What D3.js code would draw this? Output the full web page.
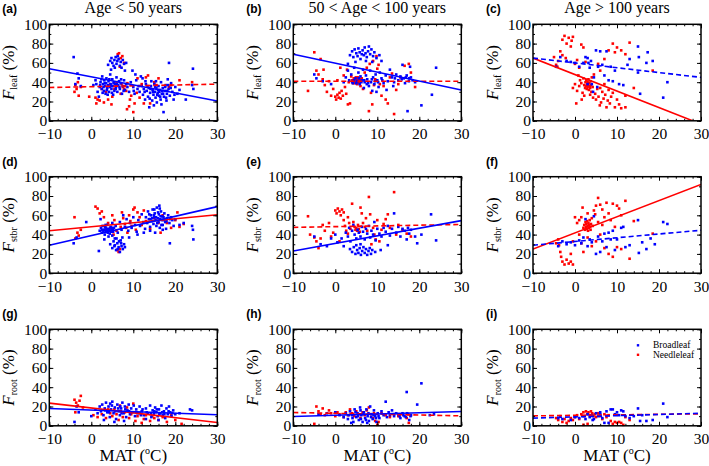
<!DOCTYPE html>
<html><head><meta charset="utf-8">
<script src="https://cdn.jsdelivr.net/npm/d3@7/dist/d3.min.js"></script>
<style>body{margin:0;background:#fff}svg{display:block}</style>
</head><body>
<svg id="chart" width="709" height="466"></svg>
<script>
// ---------- labels ----------
const columnTitles = ["Age < 50 years", "50 < Age < 100 years", "Age > 100 years"];
const rowSubscripts = ["leaf", "stbr", "root"];
const panelLetters = ["(a)","(b)","(c)","(d)","(e)","(f)","(g)","(h)","(i)"];
const xTicks = [-10, 0, 10, 20, 30];
const yTicks = [0, 20, 40, 60, 80, 100];
const seriesNames = ["Broadleaf", "Needleleaf"];

// ---------- points [MAT, fraction %] ----------
const leafYoungBroad = [[-4.2,66],[-3.3,49],[-3,44],[-2.5,36],[-3.8,38],[0.5,37],[1,42],[1.2,38],[1.5,30],[1.8,25],[2,35],[2.2,40],[2.5,33],[2.6,46],[2.8,38],[3,31],[3.1,42],[3.3,36],[3.4,28],[3.5,39],[3.6,44],[3.8,34],[4,37],[4.1,41],[4.2,30],[4.4,35],[4.5,48],[4.6,38],[4.8,33],[5,43],[5.1,36],[5.2,27],[5.4,40],[5.5,31],[5.7,38],[5.9,35],[6,45],[6.2,30],[6.4,37],[6.6,41],[6.8,33],[7,39],[7.3,28],[7.5,36],[7.8,42],[8,32],[8.3,38],[8.6,35],[9,30],[9.4,40],[9.8,52],[10,35],[10.3,28],[10.7,42],[4,58],[4.5,62],[4.8,65],[5,60],[5.3,57],[5.5,63],[5.8,66],[6,59],[6.2,62],[6.5,64],[6.8,57],[7,61],[7.2,55],[7.5,63],[7.8,59],[8,52],[8.3,60],[4.7,53],[6.3,67],[5.6,55],[11,33],[11.5,30],[12,36],[12.3,27],[12.5,33],[12.8,22],[13,38],[13.2,31],[13.5,25],[13.7,34],[14,29],[14.2,36],[14.5,21],[14.6,32],[14.8,27],[15,38],[15.1,30],[15.3,24],[15.5,34],[15.6,19],[15.8,29],[16,36],[16.1,26],[16.3,32],[16.5,22],[16.6,40],[16.8,28],[17,34],[17.2,9],[17.3,25],[17.5,31],[17.7,37],[17.9,21],[18,28],[18.2,43],[18.4,33],[18.5,60],[18.7,26],[19,39],[19.3,30],[19.6,22],[20,35],[20.5,28],[21,32],[22.5,22],[24.2,54],[24,37],[24.3,33],[13.8,14],[14.3,41],[12.2,44],[11.8,46],[10.5,48],[2.1,37],[2.4,43],[2.9,35],[3.2,39],[3.7,32],[4.3,43],[4.7,36],[5.3,39],[5.8,33],[6.1,38],[6.7,35],[7.1,43],[7.7,31],[3.9,27],[4.9,29],[2.7,29],[12.7,30],[13.4,36],[13.9,23],[14.1,33],[14.7,30],[15.2,35],[15.7,27],[15.9,32],[16.2,30],[16.4,25],[16.9,31],[17.1,28],[17.6,35],[17.8,24],[18.1,31],[18.3,37],[18.9,34],[15.4,41],[16.7,17],[14.9,16],[19.8,27],[11.3,36],[12.9,41],[10.1,31]];
const leafYoungNeedle = [[-4,30],[-3.8,37],[-3.5,33],[-3,26],[-3.2,40],[-2.5,35],[-0.5,25],[1,24],[1.2,18],[1.5,22],[2,21],[2.5,33],[3,19],[3.5,30],[4,22],[4.5,38],[5,25],[5.5,33],[5.8,36],[6,40],[6.3,69],[6.6,70],[7,65],[7.4,67],[7.8,60],[6.8,56],[7.2,38],[7.5,35],[7.8,33],[8,36],[8.3,31],[8.6,39],[9,15],[9.2,22],[9.5,26],[10,9],[10.3,18],[10.8,29],[11,44],[11.5,24],[12,38],[12.5,18],[13,45],[13.5,47],[14,18],[15,40],[15.5,37],[16,44],[18.5,35],[19,37],[21,42],[24,40],[8.5,12],[7,28],[4.8,17]];
const leafMidBroad = [[3.5,68],[4,72],[4.3,66],[4.6,74],[5,70],[5.3,67],[5.5,75],[5.8,71],[6,64],[6.3,69],[6.5,73],[6.8,68],[7,76],[7.2,70],[7.5,66],[7.8,72],[8,77],[8.3,69],[8.6,74],[9,67],[9.3,71],[9.8,65],[10.5,68],[11,62],[3,59],[4.8,61],[7.3,62],[8.8,61],[-5,48],[-4.5,44],[-3,41],[-1,38],[2,40],[2.5,45],[3,52],[3.3,42],[3.8,48],[4.2,39],[4.5,55],[4.8,44],[5.2,41],[5.5,50],[5.8,38],[6,46],[6.3,42],[6.6,53],[7,40],[7.3,47],[7.6,43],[8,36],[8.3,52],[8.5,40],[8.8,31],[9,45],[9.3,38],[9.6,48],[10,42],[10.3,35],[10.6,50],[11,44],[11.5,39],[12,47],[12.5,41],[13,53],[13.5,45],[14,40],[14.5,48],[15,42],[15.5,46],[16,58],[16.3,44],[16.6,39],[17,47],[17.2,10],[17.5,41],[17.8,56],[18,45],[18.4,42],[19,40],[20.5,16],[23,27],[24,55],[12.2,32],[13.8,36],[6.8,34],[9.8,30],[4.4,42],[5,39],[5.6,44],[6.2,40],[6.9,42],[7.8,39],[8.7,43],[9.5,41],[4,40],[7.5,38],[10.2,40],[11.2,42],[14.2,44],[15.8,43],[16.8,45],[17.6,44]];
const leafMidNeedle = [[-6.5,31],[-5,71],[-4.5,52],[-4,48],[-3.5,64],[-3,43],[-2.5,37],[-2,30],[-1.5,41],[-1,26],[-0.5,33],[0,25],[0.2,22],[0.5,27],[0.8,24],[1,29],[1.3,23],[1.5,31],[1.8,26],[2,47],[2.3,35],[2.6,28],[3,17],[3.2,40],[3.5,18],[3.8,46],[4,42],[4.2,39],[4.4,44],[4.6,41],[4.8,43],[5,40],[5.2,38],[5.4,45],[5.6,42],[5.8,39],[6,36],[6.3,44],[6.6,33],[7,50],[7.5,55],[8,10],[8.2,59],[8.5,29],[8.8,17],[9,62],[9.2,37],[9.5,43],[9.8,67],[10,54],[10.3,58],[10.6,38],[11,26],[11.5,36],[12,22],[12.5,18],[13,45],[13.5,49],[14,7],[14.5,32],[15,38],[15.5,45],[16.5,57],[17.5,59],[18,50],[19,35],[1.2,55],[0.5,42],[-2.8,53],[2.8,53],[4.3,41],[4.7,39],[5.1,42],[5.5,40],[5.9,43],[5.3,44],[4.9,45],[6.1,41]];
const leafOldBroad = [[-4.5,56],[-3.5,66],[-2,62],[-1,61],[0,60],[1,56],[2,60],[2.5,66],[3,65],[3.2,60],[3.5,55],[3.8,62],[4,38],[4.3,30],[5,73],[5.5,56],[6,72],[6.5,58],[7,47],[7.5,72],[8,42],[8.5,56],[9,41],[9.5,52],[10.5,38],[11.5,37],[12.5,58],[13,64],[15,77],[15.2,66],[15.5,28],[15,50],[17,60],[17.3,71],[18.5,62],[21,24],[22,40],[3,38],[4.5,45],[5.3,35]];
const leafOldNeedle = [[-5,66],[-4.5,58],[-4,62],[-3.5,72],[-3,84],[-2.5,88],[-2,80],[-1.5,86],[-1,77],[-0.5,87],[-0.8,83],[-3,68],[-4.2,56],[-2.2,65],[0,59],[0.5,63],[1,55],[1.5,79],[2,76],[2.5,61],[0.8,47],[1.2,42],[-0.5,34],[0,38],[0.5,31],[1,36],[1.5,39],[1.8,29],[2,44],[2.2,37],[2.4,34],[2.5,40],[2.6,36],[2.7,42],[2.8,33],[2.9,38],[3,35],[3,40],[3.1,37],[3.2,43],[3.3,32],[3.4,39],[3.5,36],[3.6,34],[3.7,41],[3.8,37],[3.9,30],[4,45],[4.2,35],[4.5,48],[4.8,28],[5,22],[5.3,33],[5.6,25],[5.9,16],[6.2,19],[6.5,30],[6.8,23],[7,38],[7.2,27],[7.5,14],[7.8,21],[8,32],[8.3,18],[8.6,25],[9,29],[9.5,14],[10,22],[10.5,17],[11,13],[12,14],[12,26],[7,64],[8,73],[9,80],[9.5,71],[10,76],[11,73],[12,69],[13,81],[6,52],[5.5,59],[14,34],[18.5,52],[2.2,26],[1.6,22],[4.3,24],[3.6,27],[6,34],[0.3,18]];

const stbrYoungBroad = [[-4.2,31],[-3.5,37],[-1.2,53],[1.8,23],[2,44],[2.3,47],[2.5,42],[2.7,49],[3,45],[3.2,40],[3.4,47],[3.6,43],[3.8,50],[4,44],[4.2,46],[4.4,41],[4.6,48],[4.8,45],[5,39],[5,52],[5.2,43],[5.4,47],[5.6,36],[5.8,49],[3.1,35],[4.1,38],[2.2,56],[4.5,30],[5,26],[5.3,33],[5.6,29],[5.9,24],[6.2,31],[6.5,27],[6.8,22],[7,34],[7.2,28],[7.5,25],[7.8,30],[8,27],[6,36],[7.4,37],[6.3,42],[6.8,53],[7.2,45],[7.6,60],[8,48],[8.4,56],[8.8,44],[9.2,52],[9.6,47],[10,58],[10.4,50],[10.8,43],[11.2,55],[11.6,49],[12,61],[12.4,53],[12.8,46],[9,37],[11,40],[13,58],[13.3,52],[13.5,64],[13.7,56],[14,48],[14.2,60],[14.4,54],[14.6,66],[14.8,51],[15,58],[15.1,62],[15.3,55],[15.5,49],[15.6,68],[15.8,57],[16,53],[16.1,61],[16.3,47],[16.5,59],[16.6,64],[16.8,55],[17,50],[17.2,58],[17.4,62],[17.6,53],[17.8,46],[18,57],[18.3,60],[18.6,52],[19,58],[19.3,55],[19.6,49],[20,56],[14,44],[12.5,42],[18.7,31],[16.2,70],[17,45],[15.2,42],[21,50],[24,49],[24.2,45],[24.3,35],[22,52],[2.6,45],[2.9,43],[3.3,48],[3.5,44],[3.7,46],[3.9,42],[4.3,45],[4.7,43],[5.1,45],[3.4,50],[4.9,47],[14.1,56],[14.9,60],[15.4,58],[15.9,63],[16.4,56],[16.9,59],[17.3,55],[15.7,52],[14.5,57],[16.7,50],[17.9,54],[18.8,56],[13.8,61],[15,66],[16.3,67],[5.5,28],[6.3,25],[7.1,31],[6.6,33]];
const stbrYoungNeedle = [[-4,58],[-3.8,36],[-3.3,42],[-3,39],[-2.5,45],[1,69],[1.5,67],[2,62],[2.5,64],[3,58],[4,52],[4.5,47],[5,60],[5.5,55],[6,44],[6.2,24],[6.5,22],[6.8,25],[7,48],[7.3,63],[7.6,57],[8,51],[8.3,47],[8.6,42],[9,60],[9.3,54],[9.6,49],[10,66],[10.3,68],[10.6,45],[11,63],[11.5,58],[12,50],[12.5,65],[13,54],[14,46],[15,57],[16,52],[16.5,42],[17,60],[18,52],[19,47],[20,55],[20.5,63],[21,48],[22,51],[5.3,40],[3.5,45]];
const stbrMidBroad = [[-5,38],[-3.5,30],[-2,28],[-1,36],[0,40],[0.5,32],[1.5,36],[2,28],[2.5,42],[3,38],[3.3,47],[3.6,33],[4,44],[4.3,50],[4.6,40],[5,36],[5.3,45],[5.6,42],[6,38],[6.3,48],[6.6,43],[7,35],[7.3,46],[7.6,41],[8,49],[8.3,37],[8.6,44],[9,40],[9.3,53],[9.6,34],[10,46],[10.5,41],[11,38],[11.5,47],[12,43],[12.5,49],[13,39],[13.5,46],[14,62],[14.5,42],[15,48],[15.5,38],[16,46],[16.5,44],[17,35],[17.3,47],[17.6,41],[18,45],[19,38],[19.5,31],[20.5,40],[22.8,61],[24,34],[3.5,25],[4,22],[4.4,27],[4.8,20],[5.2,24],[5.5,21],[5.8,26],[6.1,19],[6.4,23],[6.7,27],[7,21],[7.3,25],[7.6,19],[7.9,23],[8.2,26],[8.5,20],[8.8,24],[6,30],[5,29],[9.5,22],[10.8,24],[12.5,29]];
const stbrMidNeedle = [[-6.5,59],[-6,40],[-5,37],[-4.5,33],[-4,26],[-3.5,36],[-3,50],[-2.5,44],[-1.5,52],[-1,38],[0,65],[0.3,62],[0.6,67],[1,64],[1.3,60],[1.6,66],[2,55],[2.3,49],[2.6,44],[3,58],[3.3,52],[3.6,46],[4,72],[4.3,53],[4.6,48],[4.8,45],[5,47],[5.2,44],[5.4,50],[5.6,46],[5.8,43],[6,68],[6.3,62],[6.6,52],[7,48],[7.3,57],[7.6,44],[8,79],[8.3,61],[8.6,30],[9,47],[9.3,40],[9.6,35],[10,55],[10.5,33],[11,45],[11.5,51],[12,56],[12.5,61],[13,47],[14,84],[14.5,40],[15,50],[16,45],[17,41],[18,38],[2,63],[-0.5,42],[3,41],[1,33]];
const stbrOldBroad = [[-4,28],[-3,33],[-2,30],[-1,32],[0,29],[1,34],[1.5,31],[2,37],[2.5,56],[3,28],[3.5,35],[4,32],[4.5,59],[5,20],[5.5,38],[6,22],[6.5,33],[7,41],[7.5,27],[8,42],[8.5,35],[9,44],[9.5,24],[10,35],[11,47],[11.5,48],[12,27],[13,29],[15,55],[15.2,21],[16,32],[17,25],[18,36],[19,30],[21,53],[22,51]];
const stbrOldNeedle = [[-4.5,31],[-4,35],[-3.8,29],[-3.5,22],[-3.3,17],[-3,12],[-2.5,9],[-2,14],[-1.5,10],[-1,12],[-0.5,9],[-1,20],[-0.5,33],[0,58],[0.5,52],[1,55],[1.5,58],[1,40],[1.5,31],[2,47],[2.2,50],[2.4,45],[2.5,53],[2.6,48],[2.7,51],[2.8,46],[2.9,54],[3,49],[3.1,44],[3.2,52],[3.3,47],[3.4,50],[3.5,55],[3.6,48],[3.7,45],[3.8,51],[4,57],[4.2,49],[4.5,65],[4.8,61],[5,70],[5.5,78],[6,71],[6.5,66],[7,58],[7.5,73],[8,62],[8.5,55],[9,72],[9.5,48],[10,70],[10.5,67],[11,60],[12,75],[6,40],[5,33],[7,26],[8,20],[9,17],[10,27],[11,25],[13,15],[14,54],[18.5,41],[3,37],[2,22],[4,28],[3,62],[1.8,68],[5.5,53],[6.5,50]];

const rootYoungBroad = [[-4,4],[-3.5,20],[-3,14],[0,10],[1,17],[1.5,13],[2,20],[2.3,15],[2.6,22],[2.9,11],[3.2,18],[3.5,24],[3.8,14],[4.1,20],[4.4,9],[4.7,17],[5,25],[5.3,13],[5.6,19],[5.9,7],[6.2,22],[6.5,15],[6.8,11],[7.1,18],[7.4,24],[7.7,13],[8,20],[8.3,9],[8.6,16],[8.9,22],[9.2,12],[9.5,18],[9.8,14],[10.1,21],[10.4,10],[10.7,17],[11,13],[11.5,20],[12,15],[12.5,11],[13,18],[13.5,13],[14,21],[14.3,9],[14.6,16],[14.9,12],[15.2,19],[15.5,14],[15.8,10],[16.1,17],[16.4,13],[16.7,21],[17,11],[17.3,15],[17.6,8],[17.9,18],[18.2,12],[18.5,20],[18.8,14],[19.1,10],[19.5,16],[20,12],[21,13],[23.5,17],[24,16],[5.5,4],[7.8,5],[3,6],[13,7],[16,6],[3.3,16],[4.2,14],[4.9,21],[5.7,15],[6.4,18],[7.2,13],[8.1,17],[9,15],[10.6,14],[12.2,17],[13.2,14],[14.2,12],[15,15],[15.6,17],[16.2,12],[16.9,14],[17.4,12],[18.4,15],[19.3,13],[6.9,20],[4.5,23],[11.8,11]];
const rootYoungNeedle = [[-4,27],[-3.6,24],[-3.2,21],[-2.8,26],[-2.5,31],[-2,19],[-3.8,14],[0.5,11],[1.5,9],[2.5,12],[3.5,8],[4.5,13],[5,10],[5.5,17],[6,12],[6.5,6],[7,15],[7.5,9],[8,14],[8.5,19],[9,8],[9.5,12],[10,23],[10.5,5],[11,10],[11.5,13],[12,3],[12.5,7],[13,11],[14,5],[14.5,10],[15,8],[16,6],[17,9],[18,4],[19,11],[20,6],[21.5,2],[4,17],[6.8,21]];
const rootMidBroad = [[-4,12],[-2,13],[0,14],[1,11],[2,9],[2.5,13],[3,7],[3.5,15],[4,11],[4.3,4],[4.6,17],[5,9],[5.3,13],[5.6,6],[5.9,19],[6.2,11],[6.5,4],[6.8,14],[7.1,8],[7.4,17],[7.7,10],[8,5],[8.3,20],[8.6,12],[8.9,7],[9.2,16],[9.5,10],[9.8,4],[10.1,13],[10.5,8],[11,15],[11.5,11],[12,25],[12.3,9],[12.7,14],[13,11],[13.5,16],[14,10],[14.5,13],[15,12],[15.5,8],[16,13],[16.5,10],[17,35],[17.3,12],[17.6,6],[18,11],[19.5,22],[20.5,44],[22.5,11],[23.5,12],[3.8,3],[6,16],[7.6,3],[3.2,11],[4.1,8],[4.8,14],[5.4,10],[6.1,7],[6.7,12],[7.3,6],[7.9,13],[8.5,9],[9.1,11],[9.7,8],[10.3,10],[15.3,10],[16.2,11],[16.8,9],[17.9,10],[17.1,13]];
const rootMidNeedle = [[-5,2],[-4.5,20],[-4,15],[-3.5,12],[-3,18],[-2.5,11],[-1.5,16],[-1,13],[0,10],[0.5,14],[1,12],[2,9],[2.5,14],[3,11],[3.5,17],[4,13],[4.5,10],[5,15],[5.5,12],[6,8],[6.5,14],[7,11],[7.5,16],[8,19],[8.5,12],[9,8],[9.5,5],[10,1],[10.3,4],[11,13],[12,11],[13,9],[14,12],[15,10],[17,8],[17.5,3],[18,11],[9.2,13]];
const rootOldBroad = [[-4,8],[-3,7],[-1,6],[0,9],[1,8],[2,10],[2.5,7],[3,12],[3.5,9],[4,11],[4.5,7],[5,13],[5.5,10],[6,14],[6.5,8],[7,3],[7.5,15],[8,3],[8.5,17],[9,17],[9.5,12],[10,14],[10.5,11],[11,16],[11.5,15],[12,10],[13,8],[14,10],[15,18],[15.5,5],[16,11],[17,5],[18.5,6],[21,23],[22,9],[6,12],[4.2,6]];
const rootOldNeedle = [[-4.5,8],[-4,6],[-3.5,10],[-3,4],[-2.5,7],[-2,3],[-1.5,5],[-1,8],[-0.5,6],[0,9],[0.5,11],[1,7],[1.5,12],[2,14],[2.3,10],[2.6,15],[2.9,12],[3.2,14],[3.5,11],[3.8,15],[4.1,13],[4.4,10],[4.7,12],[5,9],[5.5,13],[6,10],[6.5,7],[7,12],[7.5,9],[8,11],[8.5,5],[9,2],[9.5,4],[10,3],[10.5,4],[11,3],[11.5,1],[12,9],[13,6],[2,1],[3,2]];

// ---------- fitted lines: [value at MAT=-10, value at MAT=30, significant(1)=solid] ----------
const fitBroad  = [[54,20.5,1],[69,32,1],[65,45,0],[29,69,1],[23,54.5,1],[29,44.5,0],[18,11.5,1],[9.6,14.8,1],[8,13,0]];
const fitNeedle = [[34.5,38,0],[41,41,0],[65,-3.4,1],[44,60.5,1],[47.5,50.5,0],[25,92,1],[23.5,3.4,1],[13.8,10.3,0],[10.3,12.4,0]];
const fitX = [-10, 30];

const broadPanels  = [leafYoungBroad, leafMidBroad, leafOldBroad, stbrYoungBroad, stbrMidBroad, stbrOldBroad, rootYoungBroad, rootMidBroad, rootOldBroad];
const needlePanels = [leafYoungNeedle, leafMidNeedle, leafOldNeedle, stbrYoungNeedle, stbrMidNeedle, stbrOldNeedle, rootYoungNeedle, rootMidNeedle, rootOldNeedle];

// ---------- drawing ----------
const BLUE = "#0000ff", RED = "#ff0000";
const serif = "'Liberation Serif','Times New Roman',serif";
const svg = d3.select("#chart");
const colLeft = [49.3, 293.3, 533], rowTop = [24.3, 176.7, 329.3];
const pw = 168, ph = 96.5;

for (let i = 0; i < 9; i++) {
  const r = Math.floor(i / 3), c = i % 3;
  const L = colLeft[c], T = rowTop[r];
  const x = d3.scaleLinear().domain([-10, 30]).range([L, L + pw]);
  const y = d3.scaleLinear().domain([0, 100]).range([T + ph, T]);
  const g = svg.append("g");
  const clipId = "clip" + i;
  svg.append("clipPath").attr("id", clipId).append("rect")
    .attr("x", L).attr("y", T).attr("width", pw).attr("height", ph);

  // points
  const pts = g.append("g");
  const ds = 2.6;
  pts.selectAll("rect.n").data(needlePanels[i]).join("rect").attr("class","n")
    .attr("x", d => x(d[0]) - ds/2).attr("y", d => y(d[1]) - ds/2)
    .attr("width", ds).attr("height", ds).attr("fill", RED);
  pts.selectAll("rect.b").data(broadPanels[i]).join("rect").attr("class","b")
    .attr("x", d => x(d[0]) - ds/2).attr("y", d => y(d[1]) - ds/2)
    .attr("width", ds).attr("height", ds).attr("fill", BLUE);

  // fit lines
  const line = d3.line().x(d => x(d[0])).y(d => y(d[1]));
  [[fitNeedle[i], RED], [fitBroad[i], BLUE]].forEach(([f, col]) => {
    g.append("path").attr("clip-path", `url(#${clipId})`)
      .attr("d", line([[fitX[0], f[0]], [fitX[1], f[1]]]))
      .attr("fill", "none").attr("stroke", col).attr("stroke-width", 1.6)
      .attr("stroke-dasharray", f[2] ? null : "5,3");
  });

  // axes (ticks inward)
  const minorX = d3.range(-10, 30.1, 2), minorY = d3.range(0, 100.1, 10);
  const mk = (axisFn, scale, vals, size, fmt) => axisFn(scale).tickValues(vals).tickSizeInner(-size).tickSizeOuter(0).tickFormat(fmt);
  const addAxis = (ax, tx, ty) => {
    const a = g.append("g").attr("transform", `translate(${tx},${ty})`).call(ax);
    a.attr("font-family", serif).attr("font-size", 15.5);
    a.select(".domain").remove();
    a.selectAll("line").attr("stroke", "#000").attr("stroke-width", 1);
    a.selectAll("text").attr("fill", "#000");
    return a;
  };
  addAxis(mk(d3.axisBottom, x, minorX, 2, ""), 0, T + ph);
  addAxis(mk(d3.axisTop, x, minorX, 2, ""), 0, T);
  addAxis(mk(d3.axisTop, x, xTicks, 4, ""), 0, T);
  addAxis(mk(d3.axisLeft, y, minorY, 2, ""), L, 0);
  addAxis(mk(d3.axisRight, y, minorY, 2, ""), L + pw, 0);
  addAxis(mk(d3.axisRight, y, yTicks, 4, ""), L + pw, 0);
  addAxis(mk(d3.axisBottom, x, xTicks, 4, d => d < 0 ? "\u2212" + Math.abs(d) : d).tickPadding(7.5), 0, T + ph);
  addAxis(mk(d3.axisLeft, y, yTicks, 4, d => d).tickPadding(2), L, 0);

  // frame
  g.append("rect").attr("x", L).attr("y", T).attr("width", pw).attr("height", ph)
    .attr("fill", "none").attr("stroke", "#000").attr("stroke-width", 1.5);

  // y label
  const yt = g.append("text").attr("transform", `translate(${L - 35.5},${T + ph / 2}) rotate(-90)`)
    .attr("text-anchor", "middle").attr("font-family", serif).attr("font-size", 17).attr("fill", "#000");
  yt.append("tspan").attr("font-style", "italic").text("F");
  yt.append("tspan").attr("font-size", 10).attr("dy", 3).text(rowSubscripts[r]);
  yt.append("tspan").attr("dy", -3).text(" (%)");

  // panel letter
  g.append("text").attr("x", L - 47).attr("y", T - 11).attr("font-family", "'Liberation Sans',Arial,sans-serif")
    .attr("font-weight", "bold").attr("font-size", 12).attr("fill", "#000").text(panelLetters[i]);

  // column titles
  if (r === 0) {
    g.append("text").attr("x", L + pw / 2).attr("y", 12.5).attr("text-anchor", "middle")
      .attr("font-family", serif).attr("font-size", 16).attr("fill", "#000").text(columnTitles[c]);
  }
  // x label
  if (r === 2) {
    const xt = g.append("text").attr("x", L + pw / 2).attr("y", T + ph + 35).attr("text-anchor", "middle")
      .attr("font-family", serif).attr("font-size", 17).attr("fill", "#000");
    xt.append("tspan").text("MAT (");
    xt.append("tspan").attr("font-size", 10).attr("dy", -7).text("o");
    xt.append("tspan").attr("dy", 7).text("C)");
  }
  // legend
  if (i === 8) {
    [[seriesNames[0], BLUE], [seriesNames[1], RED]].forEach(([name, col], k) => {
      const ly = T + 16 + k * 9.5;
      g.append("rect").attr("x", L + 105 - 1.2).attr("y", ly - 1.2).attr("width", 2.4).attr("height", 2.4).attr("fill", col);
      g.append("text").attr("x", L + 120).attr("y", ly + 3).attr("font-family", serif)
        .attr("font-size", 9.5).attr("fill", "#000").text(name);
    });
  }
}
</script>
</body></html>
